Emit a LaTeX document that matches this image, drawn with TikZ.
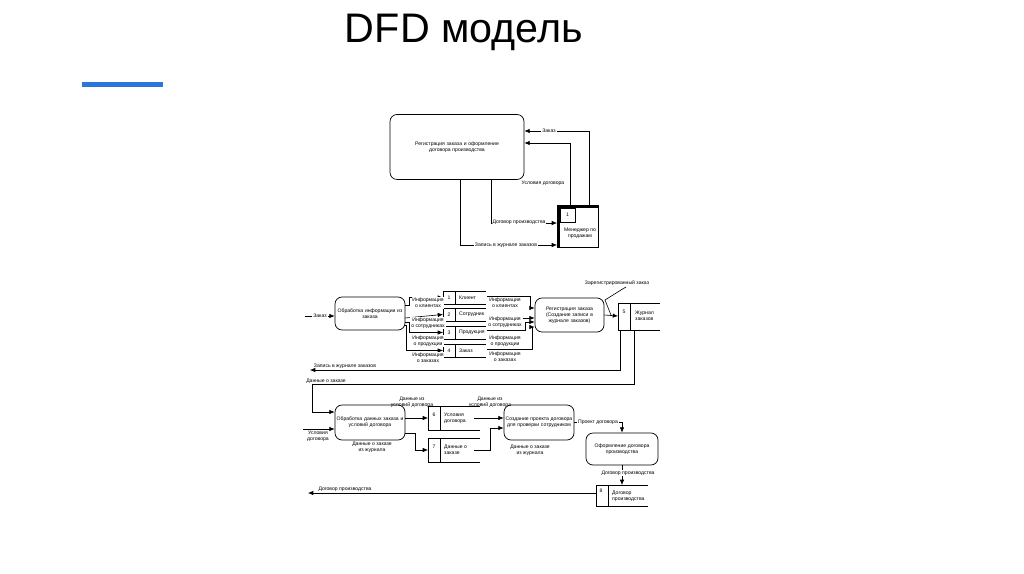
\documentclass[tikz,border=0pt]{standalone}
\usepackage{fontspec}
\setmainfont{Liberation Sans}
\usetikzlibrary{arrows.meta,calc}
\definecolor{barblue}{HTML}{2A75E0}
\begin{document}
\begin{tikzpicture}[x=0.02cm,y=-0.02cm,
 every node/.style={font=\fontsize{2.9}{3.4}\selectfont,inner sep=0.5pt},
 proc/.style={draw,rounded corners=4pt,align=center,line width=0.4pt},
 lbl/.style={align=center,fill=white},
 fl/.style={draw,-{Latex[length=3pt,width=2.5pt]},line width=0.35pt},
 ln/.style={draw,line width=0.35pt}]
\useasboundingbox (0,0) rectangle (1024,574);
\node[font=\fontsize{23.5}{27}\selectfont] (title) at (464,32) {DFD модель};
\fill[barblue] (82,82) rectangle (163,87);
% top
\node[proc,minimum width=134*0.02cm,minimum height=65*0.02cm,text width=128*0.02cm] (top) at (457,147) {Регистрация заказа и оформление договора производства};
\draw[line width=0.4pt] (557,205) rectangle (598,247);
\fill (557,205) rectangle (560,247); \fill (557,205) rectangle (598,208);
\node[draw,minimum width=15*0.02cm,minimum height=14*0.02cm] (n1) at (567.5,215) {1};
\node[align=center] (mgr) at (580,233) {Менеджер по\\продажам};
\draw[fl] (589,205) |- (top.east |- 0,131);
\node[lbl] at (549,131) {Заказ};
\draw[fl] (570,205) |- (top.east |- 0,143);
\node at (543,183) {Условия договора};
\draw[fl] (top.south -| 491,0) |- (557,223);
\node[lbl] at (519,222) {Договор производства};
\draw[fl] (top.south -| 460,0) |- (557,245);
\node[lbl] at (506,245) {Запись в журнале заказов};
% middle
\node[proc,minimum width=70*0.02cm,minimum height=33*0.02cm,text width=68*0.02cm] (p1) at (370,313.5) {Обработка информации из\\заказа};
\coordinate (in1) at (305,316);
\draw[fl] (in1) -- (p1.west |- in1);
\node[lbl] at (320,316) {Заказ};
\foreach \i/\y/\t in {1/297.5/Клиент,2/314.5/Сотрудник,3/332.5/Продукция,4/350.5/Заказ}{
 \draw[ln] (486,\y-6.5) -- (443,\y-6.5) -- (443,\y+6.5) -- (486,\y+6.5);
 \draw[ln] (455,\y-6.5) -- (455,\y+6.5);
 \node (s\i) at (449,\y) {\i};
 \node[anchor=west] at (458,\y) {\t};
 \coordinate (sl\i) at (443,\y);
}
\draw[fl] (405,305) -- (409,305) |- (sl1);
\draw[fl] (405,318) -- (sl2);
\draw[fl] (405,322) -- (409,322) |- (sl3);
\draw[fl] (405,325) -- (406,325) |- (sl4);
\node[lbl] at (428,303) {Информация\\о клиентах};
\node[lbl] at (428,323) {Информация\\о сотрудниках};
\node[lbl] at (428,341) {Информация\\о продукции};
\node[lbl] at (428,358) {Информация\\о заказах};
\node[proc,minimum width=69*0.02cm,minimum height=34*0.02cm,text width=66*0.02cm] (p2) at (569.5,315) {Регистрация заказа\\(Создание записи в\\журнале заказов)};
\draw[fl] (487,296) -- (530,296) |- (p2.west |- 0,308);
\draw[fl] (487,318) -- (p2.west |- 0,318);
\draw[fl] (487,330) -- (525,330) |- (p2.west |- 0,322);
\draw[fl] (487,349) -- (532,349) |- (p2.west |- 0,327);
\node[lbl] at (505,303) {Информация\\о клиентах};
\node[lbl] at (505,322) {Информация\\о сотрудниках};
\node[lbl] at (505,341) {Информация\\о продукции};
\node[lbl] at (505,357) {Информация\\о заказах};
\draw[ln] (660,303) -- (618,303) -- (618,330) -- (660,330);
\draw[ln] (630,303) -- (630,330);
\node (s5) at (624,312) {5};
\node[align=left,anchor=west] at (634,316) {Журнал\\заказов};
\draw[fl] (p2.east) -- (618,316);
\draw[ln] (611,315) -- (605,300) -- (621,290) -- (626,287);
\node at (617,283) {Зарегистрированный заказ};
\coordinate (o1) at (310,370);
\draw[fl] (620,330) |- (o1);
\node at (345,366) {Запись в журнале заказов};
\node[proc,minimum width=70*0.02cm,minimum height=35*0.02cm,text width=68*0.02cm] (p3) at (370,422.5) {Обработка данных заказа и\\условий договора};
\draw[fl] (634,330) |- (312,384) |- (p3.west |- 0,412);
\node at (326,381) {Данные о заказе};
\coordinate (in3) at (303,429);
\draw[fl] (in3) -- (p3.west |- in3);
\node[align=center] at (318,436) {Условия\\договора};
\foreach \i/\y/\t in {6/418/Условия\\договора,7/450/Данные о\\заказе}{
 \draw[ln] (480,\y-12) -- (428,\y-12) -- (428,\y+12) -- (480,\y+12);
 \draw[ln] (440,\y-12) -- (440,\y+12);
 \node (s\i) at (434,\y-3) {\i};
 \node[align=left,anchor=west] at (443,\y) {\t};
 \coordinate (sl\i) at (428,\y);
}
\draw[fl] (p3.east |- 0,418) -- (sl6);
\draw[fl] (p3.east |- 0,433) -- (415,433) |- (sl7);
\node[align=center] at (412,402) {Данные из\\условий договора};
\node[align=center] at (372,447) {Данные о заказе\\из журнала};
\node[proc,minimum width=70*0.02cm,minimum height=35*0.02cm,text width=68*0.02cm] (p4) at (539,422.5) {Создание проекта договора\\для проверки сотрудником};
\draw[fl] (474,418) -- (p4.west |- 0,418);
\draw[fl] (474,450) -- (490,450) |- (p4.west |- 0,428);
\node[align=center] at (490,402) {Данные из\\условий договора};
\node[align=center] at (530,450) {Данные о заказе\\из журнала};
\node[proc,minimum width=72*0.02cm,minimum height=32*0.02cm,text width=68*0.02cm] (p5) at (622,449) {Оформление договора\\производства};
\draw[fl] (p4.east) -- (622,422.5) -- (p5.north);
\node[lbl] at (598,422) {Проект договора};
\draw[ln] (648,485) -- (596,485) -- (596,506) -- (648,506);
\draw[ln] (608,485) -- (608,506);
\node (s8) at (601,491) {8};
\node[align=left,anchor=west] at (611,496) {Договор\\производства};
\draw[fl] (p5.south) -- (622,485);
\node[lbl] at (628,473) {Договор производства};
\coordinate (o2) at (308,493);
\draw[fl] (596,493) -- (o2);
\node at (345,489) {Договор производства};
\end{tikzpicture}
\end{document}
